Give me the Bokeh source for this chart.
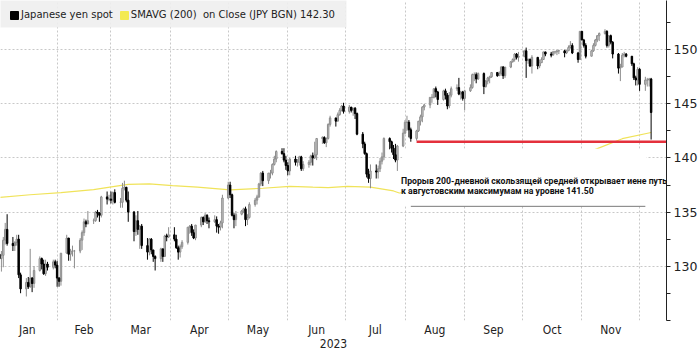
import pandas as pd
from bokeh.plotting import figure
from bokeh.models import (Range1d, FixedTicker, DatetimeTickFormatter, Legend,
                          LegendItem, Label, ColumnDataSource)
from bokeh.embed import file_html
from bokeh.resources import INLINE

# ---------------- data ----------------
dates = pd.bdate_range("2023-01-02", "2023-12-07")

open_ = [
    # Jan
    131.1, 130.7, 131.0, 132.4, 133.4, 132.1, 131.9, 132.2, 132.5, 129.2, 127.9, 128.5, 128.1, 128.9, 128.4,
    129.6, 130.7, 130.2, 129.3, 130.2, 129.9, 130.4,
    # Feb
    130.1, 128.9, 128.6, 131.2, 132.6, 131.1, 131.4, 131.4, 131.4, 132.4, 133.1, 134.1, 133.9, 134.2, 134.2,
    135.0, 134.9, 134.7, 136.4, 136.2,
    # Mar
    136.2, 136.1, 136.8, 135.9, 135.9, 137.2, 137.3, 136.1, 135.0, 133.2, 134.2, 133.4, 133.7, 131.9, 131.3,
    132.5, 131.5, 130.9, 130.7, 131.6, 130.9, 132.8, 132.7,
    # Apr
    132.9, 132.5, 131.7, 131.3, 131.8, 132.2, 133.6, 133.7, 133.1, 132.6, 133.8, 134.5, 134.1, 134.7, 134.2,
    134.1, 134.3, 133.7, 133.6, 134.0,
    # May
    136.3, 137.5, 136.6, 134.7, 134.3, 134.8, 135.1, 135.3, 134.3, 134.5, 135.7, 136.1, 136.4, 137.6, 138.6,
    137.9, 138.6, 138.6, 139.4, 139.9, 140.6, 140.4, 139.8,
    # Jun
    139.3, 138.8, 139.9, 139.6, 139.6, 140.1, 139.0, 139.4, 139.6, 140.2, 140.0, 140.3, 141.8, 141.9, 141.4,
    141.8, 143.1, 143.7, 143.4, 144.0, 144.4, 144.8,
    # Jul
    144.3, 144.7, 144.4, 144.6, 144.1, 142.2, 141.3, 140.4, 138.5, 138.1, 138.8, 138.7, 139.0, 139.7, 140.1,
    141.8, 141.5, 140.9, 140.3, 139.8, 141.1,
    # Aug
    142.3, 143.3, 143.3, 142.6, 141.8, 142.5, 143.4, 143.8, 144.7, 144.9, 145.6, 145.6, 146.4, 146.1, 145.4,
    146.2, 145.8, 144.8, 145.8, 146.4, 146.5, 145.9, 146.1,
    # Sep
    145.5, 146.2, 146.5, 147.7, 147.7, 147.3, 147.8, 146.6, 147.1, 147.4, 147.5, 147.9, 147.6, 147.8, 148.4,
    147.6, 148.4, 148.9, 149.1, 149.6, 149.3,
    # Oct
    149.4, 149.9, 149.0, 149.1, 148.5, 149.3, 148.5, 148.8, 149.1, 149.8, 149.6, 149.5, 149.8, 149.8, 149.9,
    149.9, 149.7, 149.9, 150.2, 150.4, 149.7, 149.1,
    # Nov
    151.7, 150.9, 150.4, 149.4, 149.9, 150.4, 150.9, 151.3, 151.5, 151.7, 150.4, 151.3, 150.7, 149.6, 148.3,
    148.4, 149.5, 149.6, 149.4, 148.7, 147.4, 147.2,
    # Dec
    148.2, 146.8, 147.2, 147.2, 147.3,
]
high = [
    131.1, 131.4, 132.7, 134.0, 134.8, 132.7, 132.3, 132.9, 132.9, 129.4, 128.9, 129.0, 131.6, 129.0, 130.0,
    130.9, 130.8, 130.6, 130.6, 130.4, 130.6, 130.6,
    130.5, 129.0, 131.2, 132.9, 132.6, 131.6, 131.9, 131.5, 132.6, 133.3, 134.4, 134.3, 135.1, 134.4, 135.1,
    135.2, 135.0, 136.5, 136.9, 136.6,
    136.9, 136.9, 137.1, 136.3, 137.7, 137.9, 137.3, 136.9, 135.1, 134.7, 135.1, 133.8, 133.9, 132.6, 132.6,
    132.6, 131.5, 131.0, 131.7, 131.6, 132.9, 133.0, 133.6,
    133.6, 132.9, 131.9, 132.0, 132.4, 133.6, 133.8, 133.9, 133.4, 133.8, 134.6, 134.6, 134.9, 134.8, 134.5,
    134.7, 134.6, 133.9, 134.2, 136.6,
    137.8, 137.8, 136.7, 134.9, 135.1, 135.2, 135.4, 135.5, 134.8, 135.9, 136.3, 136.6, 137.7, 138.7, 138.8,
    138.6, 138.9, 139.5, 140.2, 140.7, 140.9, 140.9, 140.2,
    139.6, 140.0, 140.2, 139.9, 140.2, 140.2, 139.7, 139.8, 140.3, 140.5, 141.5, 141.8, 142.0, 142.0, 141.9,
    143.2, 143.9, 143.7, 144.2, 144.6, 144.9, 145.1,
    144.9, 144.7, 144.6, 144.7, 144.2, 142.4, 141.5, 140.5, 139.0, 139.4, 139.4, 139.3, 140.0, 140.5, 141.9,
    141.9, 141.6, 141.2, 141.3, 141.2, 142.7,
    143.5, 143.9, 143.5, 142.8, 142.6, 143.4, 144.0, 144.8, 145.0, 145.6, 145.9, 146.4, 146.6, 146.2, 146.3,
    146.4, 146.0, 146.1, 146.6, 146.8, 147.4, 146.2, 146.2,
    146.3, 146.8, 147.8, 147.9, 147.9, 147.9, 147.9, 147.2, 147.5, 147.6, 147.9, 147.9, 148.0, 148.5, 148.5,
    148.4, 148.9, 149.2, 149.7, 149.7, 149.8,
    149.9, 150.2, 149.2, 149.2, 149.5, 149.3, 149.1, 149.3, 149.8, 149.8, 149.8, 149.9, 149.9, 150.0, 150.0,
    150.0, 150.0, 150.4, 150.8, 150.6, 149.8, 151.7,
    151.7, 151.0, 150.6, 150.0, 150.6, 151.0, 151.3, 151.6, 151.9, 151.8, 151.1, 151.4, 150.8, 149.7, 148.7,
    149.7, 149.8, 149.7, 149.4, 148.8, 147.6, 148.4,
    148.3, 147.5, 147.4, 147.4, 147.4,
]
low = [
    130.4, 129.5, 129.9, 132.0, 131.9, 131.4, 131.4, 131.9, 128.9, 127.5, 127.2, 127.9, 128.0, 127.6, 128.0,
    129.5, 129.7, 129.2, 129.1, 129.6, 129.7, 129.8,
    128.1, 128.1, 128.2, 131.2, 130.5, 130.5, 130.9, 129.8, 131.2, 131.5, 132.8, 133.6, 133.9, 133.9, 134.1,
    134.5, 134.1, 134.5, 135.7, 136.0,
    135.8, 135.7, 135.8, 135.4, 135.4, 137.0, 135.9, 134.1, 132.3, 132.8, 132.9, 131.6, 131.6, 130.6, 131.0,
    131.1, 130.4, 129.6, 130.4, 130.4, 130.9, 132.3, 132.6,
    132.3, 131.6, 130.6, 130.8, 131.6, 132.0, 133.0, 132.8, 132.5, 132.4, 133.6, 133.8, 134.0, 133.9, 133.5,
    134.0, 133.1, 133.0, 133.3, 133.5,
    136.2, 136.3, 134.6, 133.5, 133.7, 134.7, 134.9, 133.7, 133.8, 134.4, 135.5, 135.7, 136.3, 137.4, 137.4,
    137.6, 138.1, 138.4, 139.3, 139.6, 140.3, 139.6, 138.9,
    138.4, 138.4, 139.3, 139.2, 139.3, 138.8, 138.8, 139.1, 139.3, 139.3, 139.9, 139.8, 141.3, 141.3, 141.0,
    141.7, 142.9, 142.9, 143.4, 143.9, 144.3, 144.1,
    144.1, 144.2, 143.9, 143.6, 142.1, 140.9, 140.3, 138.2, 137.7, 137.2, 138.1, 138.1, 138.7, 139.4, 139.8,
    140.8, 140.5, 139.9, 139.6, 138.8, 141.0,
    142.2, 142.5, 141.9, 141.5, 141.6, 142.4, 143.0, 143.3, 144.4, 144.6, 145.1, 145.5, 145.6, 144.9, 145.3,
    145.4, 144.5, 144.6, 145.6, 146.2, 145.8, 145.4, 145.3,
    144.4, 146.1, 146.4, 147.1, 146.9, 147.2, 145.9, 146.5, 146.8, 146.9, 147.4, 147.5, 147.6, 147.6, 147.3,
    147.4, 148.3, 148.8, 148.9, 149.1, 148.9,
    149.3, 147.4, 148.7, 148.4, 147.8, 148.2, 148.3, 148.8, 149.1, 149.4, 149.3, 149.5, 149.6, 149.5, 149.6,
    149.3, 149.6, 149.9, 150.1, 149.6, 148.8, 149.1,
    150.9, 150.2, 149.2, 149.4, 149.8, 150.3, 150.7, 150.8, 151.4, 150.2, 150.2, 150.5, 149.2, 147.8, 147.1,
    148.4, 149.3, 149.3, 148.5, 147.2, 146.7, 146.7,
    146.2, 146.2, 146.6, 146.6, 141.7,
]
close = [
    130.7, 131.0, 132.4, 133.4, 132.1, 131.9, 132.2, 132.5, 129.2, 127.9, 128.5, 128.1, 128.9, 128.4, 129.6,
    130.7, 130.2, 129.3, 130.2, 129.9, 130.4, 130.1,
    128.9, 128.6, 131.2, 132.6, 131.1, 131.4, 131.4, 131.4, 132.4, 133.1, 134.1, 133.9, 134.2, 134.2, 135.0,
    134.9, 134.7, 136.4, 136.2, 136.2,
    136.1, 136.8, 135.9, 135.9, 137.2, 137.3, 136.1, 135.0, 133.2, 134.2, 133.4, 133.7, 131.9, 131.3, 132.5,
    131.5, 130.9, 130.7, 131.6, 130.9, 132.8, 132.7, 132.9,
    132.5, 131.7, 131.3, 131.8, 132.2, 133.6, 133.7, 133.1, 132.6, 133.8, 134.5, 134.1, 134.7, 134.2, 134.1,
    134.3, 133.7, 133.6, 134.0, 136.3,
    137.5, 136.6, 134.7, 134.3, 134.8, 135.1, 135.3, 134.3, 134.5, 135.7, 136.1, 136.4, 137.6, 138.6, 137.9,
    138.6, 138.6, 139.4, 139.9, 140.6, 140.4, 139.8, 139.3,
    138.8, 139.9, 139.6, 139.6, 140.1, 139.0, 139.4, 139.6, 140.2, 140.0, 140.3, 141.8, 141.9, 141.4, 141.8,
    143.1, 143.7, 143.4, 144.0, 144.4, 144.8, 144.3,
    144.7, 144.4, 144.6, 144.1, 142.2, 141.3, 140.4, 138.5, 138.1, 138.8, 138.7, 139.0, 139.7, 140.1, 141.8,
    141.5, 140.9, 140.3, 139.8, 141.1, 142.3,
    143.3, 143.3, 142.6, 141.8, 142.5, 143.4, 143.8, 144.7, 144.9, 145.6, 145.6, 146.4, 146.1, 145.4, 146.2,
    145.8, 144.8, 145.8, 146.4, 146.5, 145.9, 146.1, 145.5,
    146.2, 146.5, 147.7, 147.7, 147.3, 147.8, 146.6, 147.1, 147.4, 147.5, 147.9, 147.6, 147.8, 148.4, 147.6,
    148.4, 148.9, 149.1, 149.6, 149.3, 149.4,
    149.9, 149.0, 149.1, 148.5, 149.3, 148.5, 148.8, 149.1, 149.8, 149.6, 149.5, 149.8, 149.8, 149.9, 149.9,
    149.7, 149.9, 150.2, 150.4, 149.7, 149.1, 151.7,
    150.9, 150.4, 149.4, 149.9, 150.4, 150.9, 151.3, 151.5, 151.7, 150.4, 151.3, 150.7, 149.6, 148.3, 148.4,
    149.5, 149.6, 149.4, 148.7, 147.4, 147.2, 148.2,
    146.8, 147.2, 147.2, 147.3, 144.2,
]

# 200-day moving average (read at sample dates)
sma_dates = ["2023-01-02", "2023-01-18", "2023-02-03", "2023-02-20", "2023-03-03", "2023-03-10",
             "2023-03-21", "2023-04-02", "2023-04-15", "2023-05-02", "2023-05-19", "2023-06-02",
             "2023-06-14", "2023-06-22", "2023-07-02", "2023-07-14", "2023-07-26", "2023-07-29",
             "2023-08-15", "2023-09-01", "2023-09-15", "2023-10-02", "2023-10-16", "2023-11-01",
             "2023-11-09", "2023-11-22", "2023-12-07"]
sma_values = [136.35, 136.6, 136.8, 137.07, 137.38, 137.56,
              137.6, 137.45, 137.3, 137.05, 137.2, 137.38,
              137.3, 137.26, 137.38, 137.3, 136.95, 136.76,
              137.0, 137.5, 138.0, 138.7, 139.4, 140.3,
              140.86, 141.78, 142.35]

legend_labels = ["Japanese yen spot", "SMAVG (200)  on Close (JPY BGN) 142.30"]
month_names = ["Jan", "Feb", "Mar", "Apr", "May", "Jun", "Jul", "Aug", "Sep", "Oct", "Nov"]
year_label = "2023"
y_ticks = [130, 135, 140, 145, 150]
y_minor_ticks = [125, 127.5, 132.5, 137.5, 142.5, 147.5, 152.5]

breakout_level = 141.50
breakout_from = "2023-08-07"
note_lines = ["Прорыв 200-дневной скользящей средней открывает иене путь",
              "к августовским максимумам на уровне 141.50"]

# ---------------- helpers / layout ----------------
DAY = 86400000.0


def ms(t):
    return pd.Timestamp(t).value / 1e6


year_start = ms("2023-01-01")
x_start = year_start + 1.55 * DAY
x_end = year_start + 348 * DAY
y_lo, y_hi = 124.98, 154.55
FRAME_W, FRAME_H = 668.0, 320.0

month_starts = pd.date_range("2023-01-01", "2023-12-01", freq="MS")
start_ms = [ms(t) for t in month_starts]
mid_ms = [(a + b) / 2 for a, b in zip(start_ms[:-1], start_ms[1:])]

p = figure(width=700, height=353, x_axis_type="datetime", y_axis_location="right",
           x_range=Range1d(x_start, x_end), y_range=Range1d(y_lo, y_hi),
           toolbar_location=None, output_backend="svg",
           min_border_left=0, min_border_right=0, min_border_top=0, min_border_bottom=33,
           outline_line_color=None, background_fill_color="white", border_fill_color="white")

# grids
p.xgrid.ticker = FixedTicker(ticks=start_ms)
p.xgrid.grid_line_color = "#c8c8c8"
p.xgrid.grid_line_dash = "2 2"
p.ygrid.grid_line_color = "#c8c8c8"
p.ygrid.grid_line_dash = "2 2"

# y axis (right)
yax = p.yaxis[0]
yax.ticker = FixedTicker(ticks=y_ticks, minor_ticks=y_minor_ticks)
yax.axis_line_color = "#222222"
yax.major_tick_line_color = "#222222"
yax.minor_tick_line_color = "#222222"
yax.major_tick_out = 4
yax.major_tick_in = 0
yax.minor_tick_out = 4
yax.minor_tick_in = 0
yax.major_label_standoff = 3
yax.major_label_text_font = "DejaVu Sans"
yax.major_label_text_font_size = "12.5px"
yax.major_label_text_color = "#222222"

# x axis (months centred)
xax = p.xaxis[0]
xax.ticker = FixedTicker(ticks=mid_ms)
xax.formatter = DatetimeTickFormatter(milliseconds="%b", seconds="%b", minsec="%b", minutes="%b",
                                      hourmin="%b", hours="%b", days="%b", months="%b", years="%b")
xax.major_label_overrides = {t: m for t, m in zip(mid_ms, month_names)}
xax.axis_line_color = None
xax.major_tick_line_color = None
xax.minor_tick_line_color = None
xax.major_tick_out = 0
xax.major_label_standoff = 2
xax.major_label_text_font = "DejaVu Sans Condensed"
xax.major_label_text_font_size = "12px"
xax.major_label_text_color = "#222222"
xax.axis_label = year_label
xax.axis_label_standoff = -1
xax.axis_label_text_font = "DejaVu Sans Condensed"
xax.axis_label_text_font_size = "12px"
xax.axis_label_text_font_style = "normal"
xax.axis_label_text_color = "#222222"

# moving average
p.line(x=[ms(d) for d in sma_dates], y=sma_values, line_color="#f0e35a", line_width=1.2)

# candles
df = pd.DataFrame(dict(date=dates, open=open_, high=high, low=low, close=close))
df["top"] = df[["open", "close"]].max(axis=1)
df["bottom"] = df[["open", "close"]].min(axis=1)
up = ColumnDataSource(df[df.close >= df.open])
dn = ColumnDataSource(df[df.close < df.open])
p.segment(x0="date", y0="low", x1="date", y1="high", source=up, line_color="#8c8c8c", line_width=1)
p.vbar(x="date", width=0.75 * DAY, top="top", bottom="bottom", source=up,
       fill_color="#d0d0d0", line_color="#8c8c8c", line_width=1)
p.segment(x0="date", y0="low", x1="date", y1="high", source=dn, line_color="#000000", line_width=1)
p.vbar(x="date", width=0.75 * DAY, top="top", bottom="bottom", source=dn,
       fill_color="#000000", line_color="#000000", line_width=1)

# annotation box (white background behind the note)
box_left = ms("2023-07-30 12:00")
box_right = ms("2023-12-04 14:00")
box_bottom, box_top = 135.53, 140.85
p.quad(left=[box_left], right=[box_right], bottom=[box_bottom], top=[box_top],
       fill_color="white", line_color=None)
p.segment(x0=[ms("2023-08-04")], x1=[ms("2023-12-04")], y0=[box_bottom], y1=[box_bottom],
          line_color="#7a7a7a", line_width=1)

# breakout level
p.segment(x0=[ms(breakout_from)], x1=[x_end], y0=[breakout_level], y1=[breakout_level],
          line_color="#e4303c", line_width=2.5)

for txt, yv in zip(note_lines, [137.84, 136.92]):
    p.add_layout(Label(x=box_left - 0.6 * DAY, y=yv, text=txt, text_font="Roboto",
                       text_font_style="bold", text_font_size="8.7px", text_color="#111111",
                       text_baseline="middle", text_align="left"))

# legend background strip (top-left corner of the frame)
px_x = (x_end - x_start) / FRAME_W
px_y = (y_hi - y_lo) / FRAME_H
p.quad(left=[x_start - DAY], right=[x_start + 347 * px_x], top=[y_hi + 1], bottom=[y_hi - 27 * px_y],
       fill_color="#eeeeee", fill_alpha=0.9, line_color=None)

# legend (proxy renderers placed outside the visible range)
off_l, off_r = [x_start - 30 * DAY], [x_start - 29 * DAY]
r_spot = p.quad(left=off_l, right=off_r, top=[130], bottom=[129],
                fill_color="#000000", line_color="#000000")
r_sma = p.quad(left=off_l, right=off_r, top=[130], bottom=[129],
               fill_color="#f3ea4f", line_color="#f3ea4f")
legend = Legend(items=[LegendItem(label=legend_labels[0], renderers=[r_spot]),
                       LegendItem(label=legend_labels[1], renderers=[r_sma])],
                location="top_left", orientation="horizontal", margin=9, padding=0,
                spacing=6, label_standoff=2, glyph_width=10, glyph_height=10, label_height=10,
                label_text_font="DejaVu Sans", label_text_font_size="10px",
                label_text_color="#222222", background_fill_alpha=0.0, border_line_color=None)
p.add_layout(legend)

open("out.html", "w").write(file_html(p, INLINE))
